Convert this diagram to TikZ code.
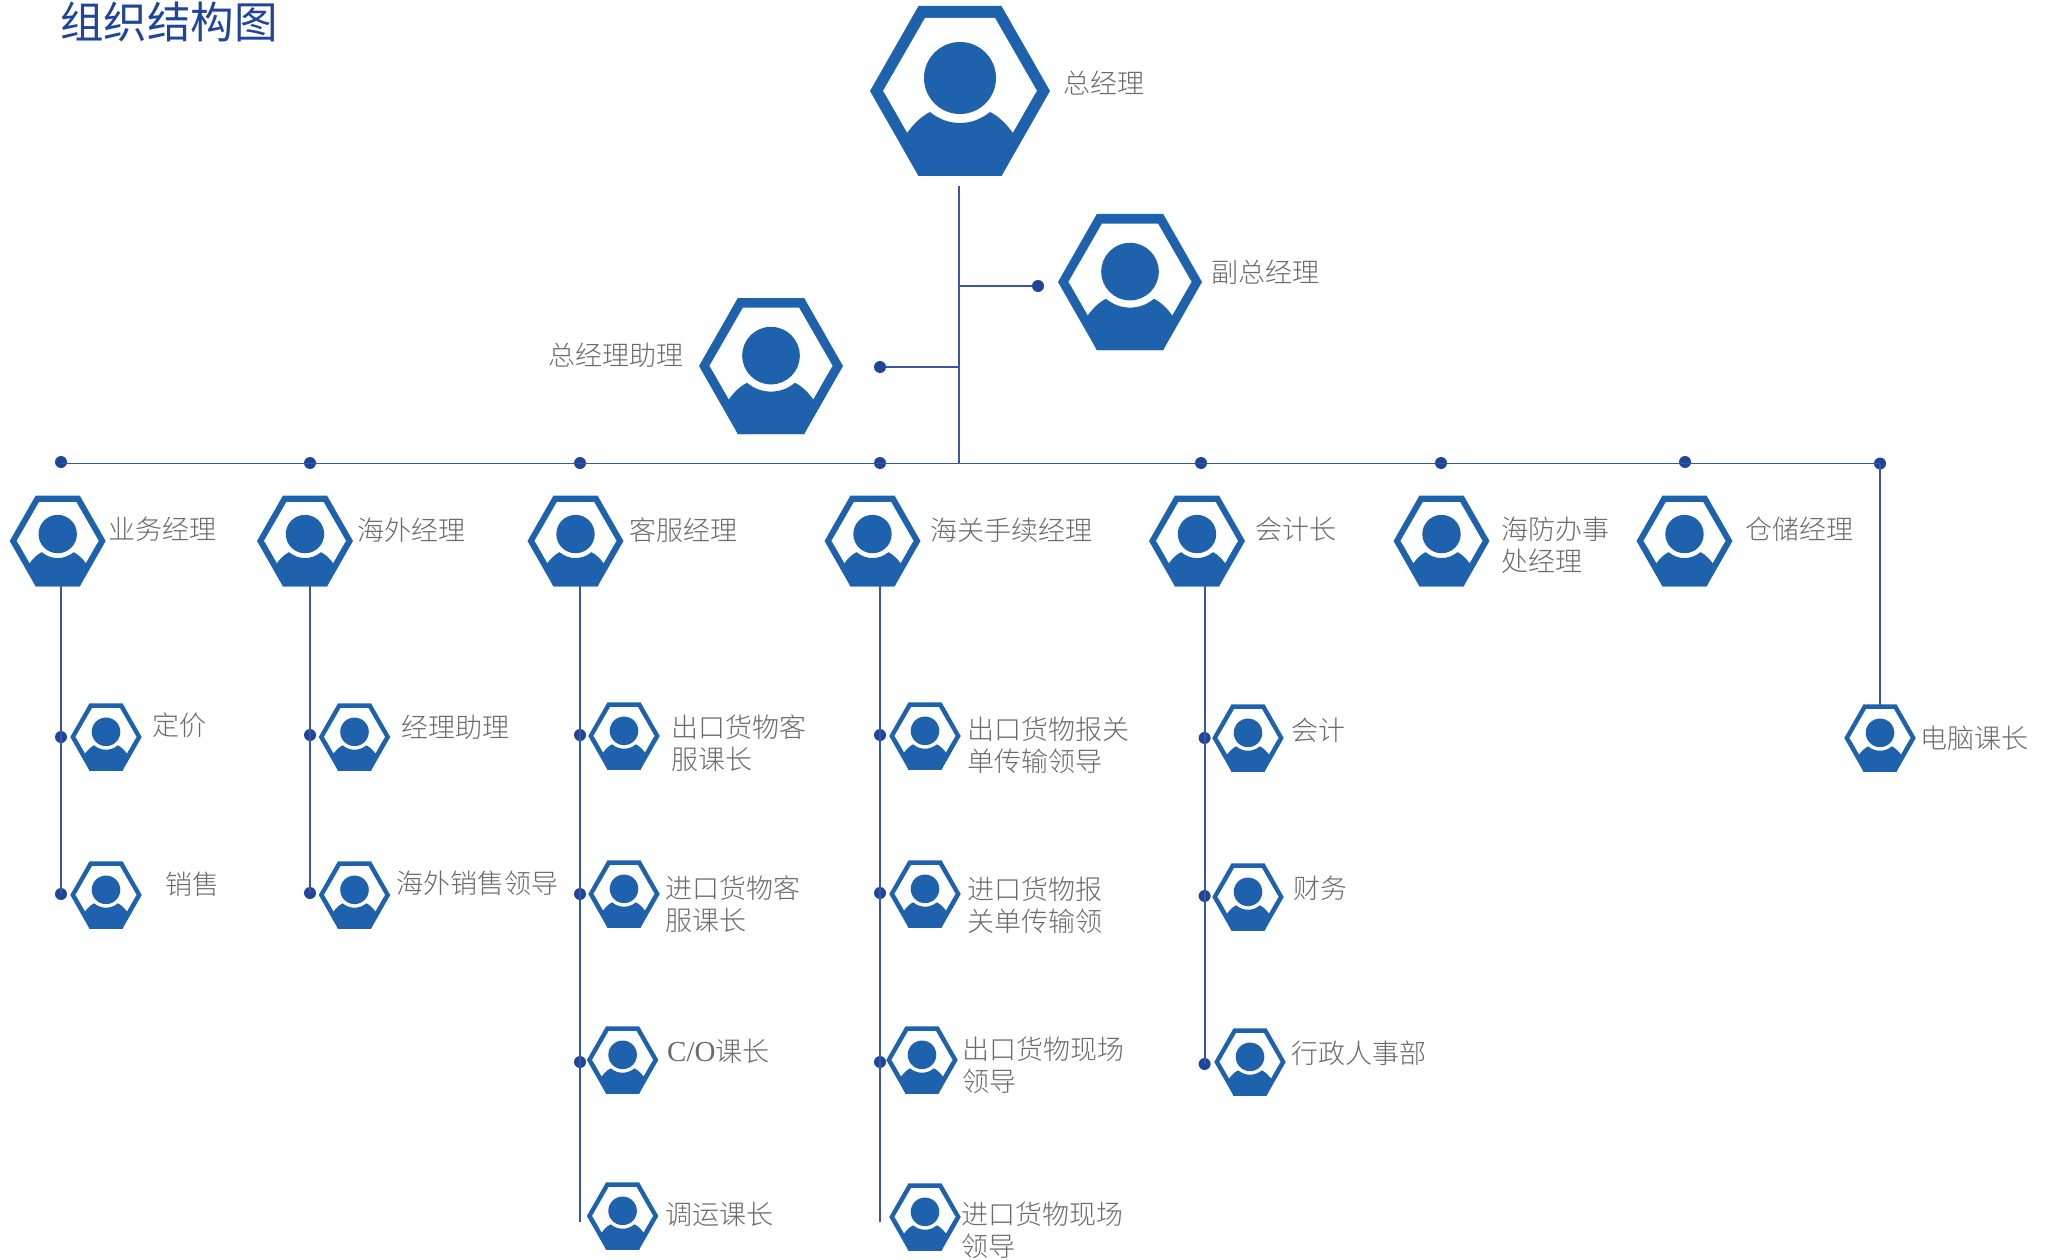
\documentclass[tikz,border=0pt]{standalone}
\usepackage{fontspec}
\setmainfont{Liberation Serif}
\newfontfamily\cjk{Noto Sans CJK SC Light}
\newfontfamily\cjkttl{Noto Sans CJK SC}
\definecolor{hexblue}{HTML}{1E62AE}
\definecolor{linkblue}{HTML}{3A55A4}
\definecolor{dotblue}{HTML}{1F459B}
\definecolor{labelgray}{HTML}{6A6A6A}
\tikzset{
  x=1pt,y=-1pt,
  person/.pic={
    \coordinate (-c) at (0,0);
    \fill[hexblue] (-90,0)--(-41.5,-85)--(41.5,-85)--(90,0)--(41.5,85)--(-41.5,85)--cycle;
    \fill[white] (-77,0)--(-35,-73)--(35,-73)--(77,0)--(35,73)--(-35,73)--cycle;
    \fill[hexblue] (0,-13) circle[radius=36];
    \fill[hexblue] (-30,21) .. controls (-20,29) and (-10,32) .. (0,32)
      .. controls (10,32) and (20,29) .. (30,21)
      .. controls (40,26) and (47,34) .. (53,42)
      -- (70,12) -- (77,0) -- (41.5,85) -- (-41.5,85) -- (-77,0) -- (-70,12) -- (-53,42)
      .. controls (-47,34) and (-40,26) .. (-30,21) -- cycle;
  },
  big/.style={scale=0.8},
  mid/.style={scale=0.533},
  small/.style={scale=0.397},
  link/.style={draw=linkblue,line width=1.8pt},
  dot/.style={circle,fill=dotblue,inner sep=0pt,minimum size=12pt},
  lbl/.style={anchor=west,inner sep=0pt,text=labelgray,align=left,
    font=\fontsize{27}{32}\selectfont\cjk},
  ttl/.style={anchor=west,inner sep=0pt,text=dotblue,font=\fontsize{43.5}{50}\selectfont\cjkttl},
}
\begin{document}
\begin{tikzpicture}
\useasboundingbox (0,0) rectangle (2051,1260);
\node[ttl] (title) at (60,22) {组织结构图};

% icons
\pic (top) at (960,91) {person};
\pic[big] (vice) at (1130,282) {person};
\pic[big] (asst) at (771,366) {person};
\foreach \n/\x in {a/57.7,b/305,c/575.5,d/872.5,e/1197,f/1441.5,g/1684.5}
  \pic[mid] (\n0) at (\x,541) {person};
\pic[small] (a1) at (106,737) {person};
\pic[small] (a2) at (106,895) {person};
\pic[small] (b1) at (354.5,737) {person};
\pic[small] (b2) at (354.5,895) {person};
\pic[small] (c1) at (624,736) {person};
\pic[small] (c2) at (624,894) {person};
\pic[small] (c3) at (622.6,1060) {person};
\pic[small] (c4) at (622.6,1216) {person};
\pic[small] (d1) at (925,736) {person};
\pic[small] (d2) at (925,894) {person};
\pic[small] (d3) at (922,1060) {person};
\pic[small] (d4) at (925,1217) {person};
\pic[small] (e1) at (1248,738) {person};
\pic[small] (e2) at (1248,897) {person};
\pic[small] (e3) at (1250,1062) {person};
\pic[small] (h1) at (1880,738) {person};

% dots
\node[dot] (dvice) at (1038,286) {};
\node[dot] (dasst) at (880,367) {};
\node[dot] (ta) at (61,462) {};
\node[dot] (tb) at (310,463) {};
\node[dot] (tc) at (580,463) {};
\node[dot] (td) at (880,463) {};
\node[dot] (te) at (1201,463) {};
\node[dot] (tf) at (1441,463) {};
\node[dot] (tg) at (1685,462) {};
\node[dot] (th) at (1880,463.5) {};
\node[dot] (da1) at (61,737) {};
\node[dot] (da2) at (61,894) {};
\node[dot] (db1) at (310,735) {};
\node[dot] (db2) at (310,893) {};
\node[dot] (dc1) at (580,735) {};
\node[dot] (dc2) at (580,894) {};
\node[dot] (dc3) at (580,1062) {};
\node[dot] (dd1) at (880,735) {};
\node[dot] (dd2) at (880,893) {};
\node[dot] (dd3) at (880,1062) {};
\node[dot] (de1) at (1204.6,738) {};
\node[dot] (de2) at (1204.6,896) {};
\node[dot] (de3) at (1204.6,1064) {};

% junctions and free ends
\coordinate (tstart) at (959,186);
\coordinate (jbar) at (959,463.5);
\coordinate (jvice) at (959,286);
\coordinate (jasst) at (959,367);
\coordinate (sa) at (61,583);
\coordinate (sb) at (310,583);
\coordinate (sc) at (580,583);
\coordinate (sd) at (880,583);
\coordinate (se) at (1204.6,583);
\coordinate (ec) at (580,1222);
\coordinate (ed) at (880,1222);
\coordinate (eh) at (1880,706);

% connectors
\draw[link] (tstart) -- (jbar);
\draw[link] (jvice) -- (dvice);
\draw[link] (jasst) -- (dasst);
\draw[link] (ta |- th) -- (th.center);
\draw[link] (sa) -- (da2.center);
\draw[link] (sb) -- (db2.center);
\draw[link] (sc) -- (ec);
\draw[link] (sd) -- (ed);
\draw[link] (se) -- (de3.center);
\draw[link] (th.center) -- (eh);

% labels
\node[lbl] (l01) at (1063,83) {总经理};
\node[lbl] (l02) at (1211,272) {副总经理};
\node[lbl] (l03) at (548,355) {总经理助理};
\node[lbl] (l04) at (108,529) {业务经理};
\node[lbl] (l05) at (357,530) {海外经理};
\node[lbl] (l06) at (629,530) {客服经理};
\node[lbl] (l07) at (930,530) {海关手续经理};
\node[lbl] (l08) at (1255,529) {会计长};
\node[lbl] (l09) at (1501,545) {海防办事\\处经理};
\node[lbl] (l10) at (1745,529) {仓储经理};
\node[lbl] (l11) at (152,725) {定价};
\node[lbl] (l12) at (165.5,884) {销售};
\node[lbl] (l13) at (401,727) {经理助理};
\node[lbl] (l14) at (396,883) {海外销售领导};
\node[lbl] (l15) at (671,743) {出口货物客\\服课长};
\node[lbl] (l16) at (665.5,904) {进口货物客\\服课长};
\node[lbl] (l17) at (667,1051) {{\rmfamily\fontsize{29}{32}\selectfont C/O}课长};
\node[lbl] (l18) at (665,1214) {调运课长};
\node[lbl] (l19) at (967,745) {出口货物报关\\单传输领导};
\node[lbl] (l20) at (967,905) {进口货物报\\关单传输领};
\node[lbl] (l21) at (962,1065) {出口货物现场\\领导};
\node[lbl] (l22) at (961,1230) {进口货物现场\\领导};
\node[lbl] (l23) at (1291.5,730) {会计};
\node[lbl] (l24) at (1293,888) {财务};
\node[lbl] (l25) at (1291,1053) {行政人事部};
\node[lbl] (l26) at (1920,738) {电脑课长};
\end{tikzpicture}
\end{document}
